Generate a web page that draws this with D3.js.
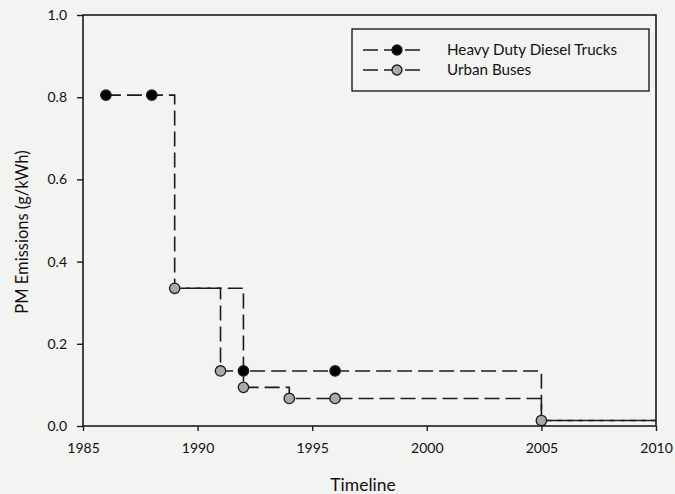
<!DOCTYPE html>
<html>
<head>
<meta charset="utf-8">
<script src="https://cdn.jsdelivr.net/npm/d3@7"></script>
<style>
  html, body { margin: 0; padding: 0; background: #f3f3f1; }
  svg { display: block; }
  text { font-family: Lato, "Open Sans", sans-serif; fill: #111; }
</style>
</head>
<body>
<svg id="chart" width="675" height="494"></svg>
<script>
// PM emission standards (g/kWh) by model year
const truckYears  = [1986, 1988, 1989, 1992, 1996, 2005, 2010];
const truckValues = [0.805, 0.805, 0.335, 0.134, 0.134, 0.0134, 0.0134];
const truckMarked = [true, true, false, true, true, false, false];

const busYears  = [1989, 1991, 1992, 1994, 1996, 2005, 2010];
const busValues = [0.335, 0.134, 0.094, 0.067, 0.067, 0.0134, 0.0134];
const busMarked = [true, true, true, true, true, true, false];

const xTicks = [1985, 1990, 1995, 2000, 2005, 2010];
const yTicks = [0.0, 0.2, 0.4, 0.6, 0.8, 1.0];

const seriesNames = ["Heavy Duty Diesel Trucks", "Urban Buses"];
const seriesFills = ["#000000", "#a9a9a9"];

const svg = d3.select("#chart");
const ink = "#1c1c1c";
const margin = { left: 83, right: 675 - 656, top: 15, bottom: 494 - 426 };
const W = 675 - margin.left - margin.right;
const H = 494 - margin.top - margin.bottom;

const x = d3.scaleLinear().domain([1985, 2010]).range([0, W]);
const y = d3.scaleLinear().domain([0, 1]).range([H, 0]);

const g = svg.append("g").attr("transform", `translate(${margin.left},${margin.top})`);

// frame
g.append("rect")
  .attr("x", 0).attr("y", 0).attr("width", W).attr("height", H)
  .attr("fill", "none").attr("stroke", ink).attr("stroke-width", 1.6);

// axes
const xAxis = g.append("g").attr("transform", `translate(0,${H})`)
  .call(d3.axisBottom(x).tickValues(xTicks).tickFormat(d3.format("d")).tickSize(5).tickPadding(12));
const yAxis = g.append("g")
  .call(d3.axisLeft(y).tickValues(yTicks).tickFormat(d3.format(".1f")).tickSize(6).tickPadding(10));
[xAxis, yAxis].forEach(a => {
  a.select(".domain").remove();
  a.selectAll("line").attr("stroke", ink).attr("stroke-width", 1.4);
  a.selectAll("text").attr("font-size", 14).attr("fill", "#111")
    .style("font-family", "Lato, 'Open Sans', sans-serif");
});

// axis titles
svg.append("text")
  .attr("x", 363).attr("y", 491)
  .attr("text-anchor", "middle").attr("font-size", 17.5)
  .text("Timeline");
svg.append("text")
  .attr("transform", `translate(28,232) rotate(-90)`)
  .attr("text-anchor", "middle").attr("font-size", 16.5)
  .text("PM Emissions (g/kWh)");

const line = d3.line()
  .x(d => x(d[0])).y(d => y(d[1]))
  .curve(d3.curveStepAfter);

const series = [
  { years: truckYears, values: truckValues, marked: truckMarked, fill: seriesFills[0] },
  { years: busYears, values: busValues, marked: busMarked, fill: seriesFills[1] }
];

series.forEach(s => {
  const pts = s.years.map((yr, i) => [yr, s.values[i]]);
  g.append("path")
    .attr("d", line(pts))
    .attr("fill", "none").attr("stroke", ink).attr("stroke-width", 1.6)
    .attr("stroke-dasharray", "15,6");
});

// markers on top of both step lines
series.slice().reverse().forEach(s => {
  const pts = s.years.map((yr, i) => [yr, s.values[i], s.marked[i]]).filter(d => d[2]);
  g.selectAll(null).data(pts).enter().append("circle")
    .attr("cx", d => x(d[0])).attr("cy", d => y(d[1]))
    .attr("r", 5.2)
    .attr("fill", s.fill).attr("stroke", ink).attr("stroke-width", 1.3);
});

// legend
const lg = svg.append("g");
lg.append("rect")
  .attr("x", 352).attr("y", 29).attr("width", 297).attr("height", 62)
  .attr("fill", "none").attr("stroke", ink).attr("stroke-width", 1.4);
seriesNames.forEach((name, i) => {
  const cy = 50 + i * 20;
  lg.append("line")
    .attr("x1", 363).attr("x2", 421).attr("y1", cy).attr("y2", cy)
    .attr("stroke", ink).attr("stroke-width", 1.6).attr("stroke-dasharray", "15,6");
  lg.append("circle")
    .attr("cx", 397).attr("cy", cy).attr("r", 5)
    .attr("fill", seriesFills[i]).attr("stroke", ink).attr("stroke-width", 1.3);
  lg.append("text")
    .attr("x", 447).attr("y", cy + 5)
    .attr("font-size", 15.2)
    .text(name);
});
</script>
</body>
</html>
